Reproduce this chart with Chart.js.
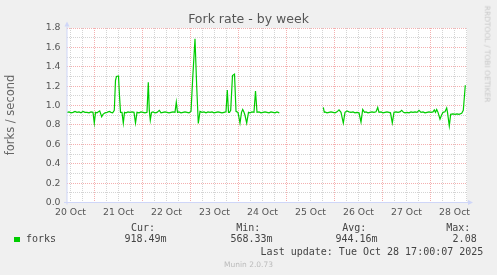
<!DOCTYPE html>
<html><head><meta charset="utf-8">
<script src="https://cdn.jsdelivr.net/npm/chart.js@4.4.1/dist/chart.umd.min.js"></script>
<style>
html,body{margin:0;padding:0;background:#f0f0f0;}
#wrap{position:relative;width:497px;height:275px;overflow:hidden;background:#f0f0f0;}
#c{position:absolute;left:0;top:0;}
.t{position:absolute;line-height:1;white-space:nowrap;color:#555;font-family:'DejaVu Sans',sans-serif;}
.m{font-family:'DejaVu Sans Mono',monospace;font-size:10px;color:#444;}
</style></head><body>
<div id="wrap">
<canvas id="c" width="497" height="275"></canvas>
<div class="t" style="left:0;width:497px;text-align:center;top:13.4px;font-size:12.5px;">Fork rate - by week</div>
<div class="t" style="left:11px;top:115px;font-size:11.5px;color:#666;transform:translate(-50%,-50%) rotate(-90deg);">forks / second</div>
<div class="t" style="left:487px;top:53.5px;font-size:7.5px;color:#c8c8c8;transform:translate(-50%,-50%) rotate(90deg);">RRDTOOL / TOBI OETIKER</div>
<div style="position:absolute;left:14px;top:236.7px;width:5.5px;height:5.5px;background:#00cc00;"></div>
<div class="t m" style="left:26px;top:234.2px;">forks</div>
<div class="t m" style="left:131px;top:222.5px;">Cur:</div>
<div class="t m" style="left:124.4px;top:234.2px;">918.49m</div>
<div class="t m" style="left:236.2px;top:222.5px;">Min:</div>
<div class="t m" style="left:230.4px;top:234.2px;">568.33m</div>
<div class="t m" style="left:342.2px;top:222.5px;">Avg:</div>
<div class="t m" style="left:335.4px;top:234.2px;">944.16m</div>
<div class="t m" style="left:446.2px;top:222.5px;">Max:</div>
<div class="t m" style="left:452.6px;top:234.2px;">2.08</div>
<div class="t m" style="left:260.6px;top:246.5px;">Last update: Tue Oct 28 17:00:07 2025</div>
<div class="t" style="left:0;width:497px;text-align:center;top:260.7px;font-size:7.5px;color:#bbb;">Munin 2.0.73</div>
</div>
<script>
// hours since 20 Oct 00:00
const hours = [
10.25,11.25,12.25,13.25,14.25,15.25,16.25,17.25,18.25,19.25,20.25,21.25,22.25,23.25,23.9,24.5,25.25,26.6,27.6,28.25,
29.25,30.25,31.4,32.25,33.1,33.9,34.5,35.0,36.0,36.5,37.0,37.75,38.4,39.0,39.75,40.75,41.75,42.75,43.75,44.5,
45.25,46.25,47.25,48.25,49.25,50.25,50.9,51.4,51.9,52.5,53.25,54.25,55.25,56.4,57.25,58.25,59.25,60.25,61.25,62.25,
63.25,64.25,64.9,65.5,66.25,67.25,68.25,69.25,70.25,71.25,72.25,73.1,74.25,75.1,75.9,76.75,77.75,78.75,79.75,80.75,
81.75,82.75,83.75,84.75,85.75,86.75,87.75,88.75,89.75,90.4,91.0,91.5,92.1,93.0,94.0,94.75,95.75,96.75,97.5,98.1,
98.75,99.25,100.1,101.0,101.75,102.75,103.75,104.5,105.25,106.25,107.25,108.25,109.25,110.25,111.25,112.25,113.25,114.25,115.25,116.4,
117,
138.4,138.9,139.25,140.25,141.25,142.25,143.25,144.25,145.25,146.25,147.25,148.4,149.25,150.25,151.25,152.25,153.25,154.25,155.25,156.25,
157.25,158.1,159.0,159.75,160.75,161.75,162.75,163.75,164.75,165.6,166.25,167.25,168.25,169.25,170.25,171.25,172.0,172.9,173.75,174.75,
175.75,176.75,177.6,178.5,179.25,180.25,181.25,182.25,183.25,184.25,185.25,186.25,187.25,188.25,189.25,190.25,191.25,192.25,193.25,193.9,
194.5,195.1,195.75,196.75,197.5,198.25,199.25,200.1,200.5,201.4,202.1,203.25,204.25,205.25,206.25,207.6,208.4,209.4
];
const forks = [
0.93,0.935,0.925,0.93,0.94,0.93,0.935,0.925,0.94,0.93,0.93,0.925,0.935,0.93,0.82,0.93,0.925,0.945,0.885,0.91,
0.925,0.93,0.94,0.93,0.925,0.95,1.26,1.30,1.305,1.1,0.93,0.93,0.82,0.93,0.925,0.935,0.93,0.935,0.93,0.82,
0.93,0.925,0.935,0.93,0.925,0.93,1.24,0.95,0.85,0.93,0.935,0.925,0.93,0.95,0.925,0.93,0.935,0.93,0.925,0.93,
0.935,0.93,1.035,0.93,0.935,0.925,0.93,0.935,0.93,0.925,0.94,1.28,1.69,1.2,0.815,0.94,0.93,0.935,0.925,0.935,
0.93,0.935,0.925,0.93,0.935,0.93,0.925,0.93,0.935,1.16,0.93,0.93,0.95,1.31,1.325,0.94,0.93,0.82,0.93,0.96,
0.93,0.90,0.82,0.93,0.925,0.935,0.93,1.15,0.93,0.935,0.925,0.93,0.935,0.93,0.925,0.935,0.93,0.925,0.935,0.925,
null,
0.98,0.93,0.935,0.925,0.93,0.935,0.93,0.925,0.935,0.955,0.93,0.82,0.93,0.945,0.935,0.93,0.935,0.925,0.93,0.925,
0.83,0.96,0.93,0.935,0.925,0.93,0.935,0.93,0.935,0.98,0.93,0.935,0.925,0.93,0.935,0.93,0.925,0.82,0.93,0.935,
0.93,0.935,0.95,0.93,0.925,0.93,0.925,0.935,0.93,0.935,0.93,0.95,0.93,0.935,0.925,0.93,0.935,0.93,0.935,0.955,
0.93,0.96,0.93,0.86,0.90,0.93,0.935,0.975,0.93,0.79,0.91,0.915,0.91,0.915,0.91,0.92,0.95,1.21
];
const dayLabels = ["20 Oct","21 Oct","22 Oct","23 Oct","24 Oct","25 Oct","26 Oct","27 Oct","28 Oct"];
const yTickValues = [0,0.1,0.2,0.3,0.4,0.5,0.6,0.7,0.8,0.9,1.0,1.1,1.2,1.3,1.4,1.5,1.6,1.7,1.8];

const RED = '#f4b0b0', GREY = '#d4d4d4', AXIS = '#cfd6f8';
const xGrid = [];
for (let h = 12; h <= 210; h += 6) xGrid.push(h);

const munin = {
  id: 'munin',
  beforeDraw(chart) {
    const {ctx, chartArea: a} = chart;
    ctx.save();
    ctx.fillStyle = '#ffffff';
    ctx.fillRect(a.left, a.top, a.right - a.left, a.bottom - a.top);
    ctx.restore();
  },
  afterDraw(chart) {
    const {ctx, chartArea: a} = chart;
    ctx.save();
    ctx.strokeStyle = AXIS; ctx.fillStyle = AXIS; ctx.lineWidth = 1;
    ctx.beginPath();
    ctx.moveTo(a.left, a.bottom + 2); ctx.lineTo(a.left, a.top - 1.5);
    ctx.moveTo(a.left - 3, a.bottom); ctx.lineTo(a.right + 1, a.bottom);
    ctx.stroke();
    ctx.beginPath();
    ctx.moveTo(a.left, a.top - 6.5); ctx.lineTo(a.left - 2.5, a.top - 1.5); ctx.lineTo(a.left + 2.5, a.top - 1.5); ctx.closePath();
    ctx.fill();
    ctx.beginPath();
    ctx.moveTo(a.right + 6, a.bottom); ctx.lineTo(a.right + 1, a.bottom - 2.5); ctx.lineTo(a.right + 1, a.bottom + 2.5); ctx.closePath();
    ctx.fill();
    ctx.restore();
  }
};

new Chart(document.getElementById('c'), {
  type: 'line',
  data: {
    datasets: [{
      data: hours.map((h, i) => ({x: h, y: forks[i]})),
      borderColor: '#00cc00', borderWidth: 1.2, pointRadius: 0, fill: false, tension: 0, spanGaps: false
    }]
  },
  options: {
    responsive: false, animation: false, devicePixelRatio: 1, events: [],
    layout: {padding: {left: 0, right: 30, top: 28, bottom: 52.5}},
    plugins: {legend: {display: false}, title: {display: false}, tooltip: {enabled: false}},
    scales: {
      x: {
        type: 'linear', min: 10.25, max: 210.25,
        afterFit(s) { s.height = 20; },
        afterBuildTicks(s) { s.ticks = xGrid.map(v => ({value: v})); },
        grid: {color: c => (c.tick && Math.round(c.tick.value) % 24 === 0) ? RED : GREY, lineWidth: 1, drawTicks: false},
        border: {display: false, dash: [1, 1]},
        ticks: {
          autoSkip: false, maxRotation: 0, minRotation: 0, padding: 4.5, color: '#555',
          font: {family: 'DejaVu Sans', size: 9.3},
          callback: v => { const h = Math.round(v); return h % 24 === 12 ? dayLabels[(h - 12) / 24] : ''; }
        }
      },
      y: {
        min: 0, max: 1.8,
        afterFit(s) { s.width = 67; },
        afterBuildTicks(s) { s.ticks = yTickValues.map(v => ({value: v})); },
        grid: {color: c => (c.tick && Math.round(c.tick.value * 10) % 2 === 0) ? RED : GREY, lineWidth: 1, drawTicks: false},
        border: {display: false, dash: [1, 1]},
        ticks: {
          autoSkip: false, padding: 6.5, color: '#555',
          font: {family: 'DejaVu Sans', size: 9.3},
          callback: v => Math.round(v * 10) % 2 === 0 ? v.toFixed(1) : ''
        }
      }
    }
  },
  plugins: [munin]
});
</script>
</body></html>
